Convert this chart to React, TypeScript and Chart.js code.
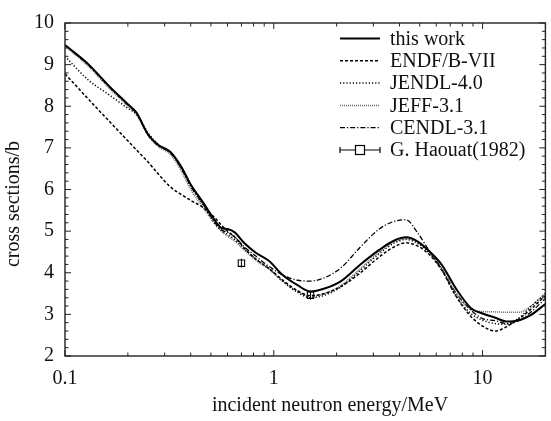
import React, { useEffect, useRef } from "react";
import { Chart, registerables } from "chart.js";

Chart.register(...registerables);

// ---- data ----
const energy = [0.1, 0.13, 0.16, 0.2, 0.22, 0.25, 0.28, 0.32, 0.36, 0.4, 0.46, 0.52, 0.56, 0.6, 0.65, 0.72, 0.82, 0.95, 1.1, 1.3, 1.5, 1.75, 2.1, 2.6, 3.2, 3.8, 4.3, 4.9, 5.6, 6.4, 7.5, 8.8, 10, 11.5, 13, 15, 17, 20];
const thisWork = [9.47, 9.0, 8.52, 8.05, 7.85, 7.32, 7.07, 6.9, 6.55, 6.12, 5.68, 5.27, 5.08, 5.05, 4.97, 4.72, 4.48, 4.28, 3.95, 3.7, 3.55, 3.62, 3.8, 4.2, 4.55, 4.78, 4.85, 4.75, 4.5, 4.18, 3.6, 3.15, 3.02, 2.92, 2.83, 2.86, 2.98, 3.25];
const endf = [8.78, 8.16, 7.68, 7.17, 6.95, 6.66, 6.37, 6.06, 5.88, 5.74, 5.56, 5.33, 5.15, 5.0, 4.86, 4.6, 4.33, 4.1, 3.83, 3.57, 3.45, 3.5, 3.67, 4.0, 4.38, 4.63, 4.72, 4.64, 4.42, 4.05, 3.42, 2.95, 2.72, 2.6, 2.7, 2.9, 3.12, 3.45];
const jendl = [9.2, 8.62, 8.3, 7.95, 7.8, 7.36, 7.08, 6.88, 6.52, 6.08, 5.62, 5.2, 5.02, 4.92, 4.8, 4.58, 4.33, 4.1, 3.8, 3.53, 3.4, 3.46, 3.66, 4.06, 4.46, 4.72, 4.8, 4.7, 4.46, 4.06, 3.42, 3.02, 2.86, 2.78, 2.76, 2.92, 3.18, 3.5];
const jeff = [9.45, 8.95, 8.47, 8.0, 7.8, 7.3, 7.03, 6.84, 6.45, 6.0, 5.56, 5.18, 5.0, 4.88, 4.76, 4.55, 4.3, 4.08, 3.8, 3.55, 3.43, 3.5, 3.7, 4.1, 4.5, 4.75, 4.82, 4.73, 4.5, 4.12, 3.48, 3.12, 3.07, 3.06, 3.05, 3.05, 3.2, 3.5];
const cendl = [9.47, 8.98, 8.5, 8.03, 7.83, 7.3, 7.05, 6.88, 6.52, 6.08, 5.64, 5.22, 5.03, 4.97, 4.86, 4.63, 4.4, 4.15, 3.95, 3.82, 3.8, 3.88, 4.12, 4.62, 5.05, 5.24, 5.27, 4.95, 4.5, 4.08, 3.5, 3.1, 2.9, 2.85, 2.78, 2.85, 3.05, 3.38];
const haouatE = [0.7, 1.5];
const haouatXS = [4.23, 3.46];

const xTickLabels = [0.1, 1, 10];
const yTickLabels = [2, 3, 4, 5, 6, 7, 8, 9, 10];
const xMinorTicks = [0.2, 0.3, 0.4, 0.5, 0.6, 0.7, 0.8, 0.9, 2, 3, 4, 5, 6, 7, 8, 9];

const seriesNames = ["this work", "ENDF/B-VII", "JENDL-4.0", "JEFF-3.1", "CENDL-3.1", "G. Haouat(1982)"];
const xTitle = "incident neutron energy/MeV";
const yTitle = "cross sections/b";

const FONT = "'Liberation Serif', 'Times New Roman', serif";
const FS = 20;

const styles = [
  { color: "#000000", width: 2, dash: [] as number[] },
  { color: "#000000", width: 1.5, dash: [3, 2] },
  { color: "#000000", width: 1.5, dash: [1.2, 2] },
  { color: "#666666", width: 1.5, dash: [1, 1] },
  { color: "#000000", width: 1.3, dash: [5, 2, 1.2, 2] },
];

const framePlugin = {
  id: "frameTicks",
  afterDraw(chart: any) {
    const { ctx, chartArea: a, scales } = chart;
    const xs = scales.x;
    const ys = scales.y;
    ctx.save();
    ctx.strokeStyle = "#222";
    ctx.lineWidth = 1.4;
    ctx.setLineDash([]);
    ctx.strokeRect(a.left, a.top, a.right - a.left, a.bottom - a.top);
    ctx.lineWidth = 1;
    const major = 6;
    const minor = 3.5;
    const vt = (x: number, len: number) => {
      ctx.beginPath();
      ctx.moveTo(x, a.bottom);
      ctx.lineTo(x, a.bottom - len);
      ctx.moveTo(x, a.top);
      ctx.lineTo(x, a.top + len);
      ctx.stroke();
    };
    const ht = (y: number, len: number) => {
      ctx.beginPath();
      ctx.moveTo(a.left, y);
      ctx.lineTo(a.left + len, y);
      ctx.moveTo(a.right, y);
      ctx.lineTo(a.right - len, y);
      ctx.stroke();
    };
    xTickLabels.forEach((v) => vt(xs.getPixelForValue(v), major));
    xMinorTicks.forEach((v) => vt(xs.getPixelForValue(v), minor));
    for (let v = 2; v <= 10.001; v += 0.2) {
      const isMajor = Math.abs(v - Math.round(v)) < 1e-6;
      ht(ys.getPixelForValue(v), isMajor ? major : minor);
    }

    // axis titles
    ctx.fillStyle = "#111";
    ctx.font = `${FS}px ${FONT}`;
    ctx.textAlign = "center";
    ctx.textBaseline = "alphabetic";
    ctx.fillText(xTitle, 330, 411);
    ctx.save();
    ctx.translate(19, 204);
    ctx.rotate(-Math.PI / 2);
    ctx.fillText(yTitle, 0, 0);
    ctx.restore();

    // legend
    const lx0 = 340;
    const lx1 = 380;
    const tx = 390;
    const y0 = 38.5;
    const dy = 22.3;
    ctx.textAlign = "left";
    ctx.textBaseline = "middle";
    seriesNames.forEach((name, i) => {
      const y = y0 + i * dy;
      if (i < 5) {
        const s = styles[i];
        ctx.strokeStyle = s.color;
        ctx.lineWidth = s.width;
        ctx.setLineDash(s.dash);
        ctx.beginPath();
        ctx.moveTo(lx0, y);
        ctx.lineTo(lx1, y);
        ctx.stroke();
      } else {
        ctx.strokeStyle = "#000";
        ctx.lineWidth = 1.2;
        ctx.setLineDash([]);
        ctx.beginPath();
        ctx.moveTo(lx0, y);
        ctx.lineTo(lx1, y);
        ctx.moveTo(lx0, y - 3);
        ctx.lineTo(lx0, y + 3);
        ctx.moveTo(lx1, y - 3);
        ctx.lineTo(lx1, y + 3);
        ctx.stroke();
        ctx.fillStyle = "#fff";
        ctx.fillRect(355.5, y - 4.5, 9, 9);
        ctx.strokeRect(355.5, y - 4.5, 9, 9);
      }
      ctx.setLineDash([]);
      ctx.fillStyle = "#111";
      ctx.fillText(name, tx, y + 1);
    });

    // inner mark of the experimental squares
    const meta = chart.getDatasetMeta(5);
    ctx.strokeStyle = "#000";
    ctx.lineWidth = 1;
    meta.data.forEach((p: any) => {
      ctx.beginPath();
      ctx.moveTo(p.x, p.y - 4.5);
      ctx.lineTo(p.x, p.y + 4.5);
      ctx.stroke();
    });
    ctx.restore();
  },
};

export default function App() {
  const ref = useRef<HTMLCanvasElement | null>(null);

  useEffect(() => {
    if (!ref.current) return;
    const mk = (vals: number[], i: number) => ({
      label: seriesNames[i],
      data: energy.map((e, k) => ({ x: e, y: vals[k] })),
      borderColor: styles[i].color,
      borderWidth: styles[i].width,
      borderDash: styles[i].dash,
      pointRadius: 0,
      fill: false,
      cubicInterpolationMode: "monotone" as const,
    });
    const chart = new Chart(ref.current, {
      type: "line",
      data: {
        datasets: [
          mk(thisWork, 0),
          mk(endf, 1),
          mk(jendl, 2),
          mk(jeff, 3),
          mk(cendl, 4),
          {
            label: seriesNames[5],
            data: haouatE.map((e, k) => ({ x: e, y: haouatXS[k] })),
            showLine: false,
            pointStyle: "rect",
            pointRadius: 4.5,
            pointBackgroundColor: "#fff",
            pointBorderColor: "#000",
            pointBorderWidth: 1.1,
            borderColor: "#000",
          } as any,
        ],
      },
      options: {
        animation: false,
        responsive: false,
        maintainAspectRatio: false,
        layout: { padding: { left: 0, top: 13, right: 1, bottom: 0 } },
        plugins: {
          legend: { display: false },
          tooltip: { enabled: false },
        },
        scales: {
          x: {
            type: "logarithmic",
            min: 0.1,
            max: 20,
            grid: { display: false, drawTicks: false },
            border: { display: false },
            afterBuildTicks: (s: any) => {
              s.ticks = xTickLabels.map((v) => ({ value: v }));
            },
            afterFit: (s: any) => {
              s.height = 65;
            },
            ticks: {
              autoSkip: false,
              maxRotation: 0,
              padding: 11,
              color: "#111",
              font: { family: FONT, size: FS },
              callback: (v: any) => String(v),
            },
          },
          y: {
            type: "linear",
            min: 2,
            max: 10,
            grid: { display: false, drawTicks: false },
            border: { display: false },
            afterBuildTicks: (s: any) => {
              s.ticks = yTickLabels.map((v) => ({ value: v }));
            },
            afterFit: (s: any) => {
              s.width = 65;
            },
            ticks: {
              padding: 11,
              color: "#111",
              font: { family: FONT, size: FS },
              callback: (v: any) => String(v),
            },
          },
        },
      },
      plugins: [framePlugin],
    });
    return () => chart.destroy();
  }, []);

  return (
    <div style={{ position: "absolute", left: 0, top: 0, width: 551, height: 421, background: "#fff" }}>
      <canvas ref={ref} width={551} height={421} />
    </div>
  );
}
